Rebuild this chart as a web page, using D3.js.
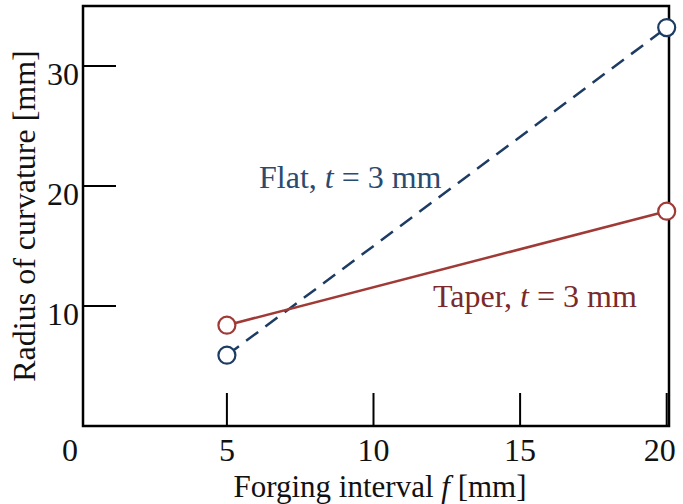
<!DOCTYPE html>
<html>
<head>
<meta charset="utf-8">
<script src="https://cdn.jsdelivr.net/npm/d3@7"></script>
<style>
  body { margin: 0; background: #fff; }
  svg { display: block; }
  text { font-family: "Liberation Serif", "Times New Roman", serif; }
</style>
</head>
<body>
<svg id="chart" width="683" height="504"></svg>
<script>
// Forging interval f [mm]
const intervals = [5, 20];
// Radius of curvature [mm] for each tool shape
const flatRadius = [5.9, 33.2];
const taperRadius = [8.4, 17.9];
const xTicks = [5, 10, 15, 20];
const yTicks = [10, 20, 30];
const seriesNames = ["Flat", "Taper"];

const svg = d3.select("#chart");

// frame of the plotting area
const frame = { left: 83, right: 669, top: 6, bottom: 426 };

const x = d3.scaleLinear().domain([0, 20]).range([80.3, 666.7]);
const y = d3.scaleLinear().domain([0, 35]).range([frame.bottom, frame.top]);

const tickLen = 33;
const fontSize = 32;

// inward ticks on left and bottom
svg.append("g").selectAll("line").data(yTicks).join("line")
  .attr("x1", frame.left).attr("x2", frame.left + tickLen)
  .attr("y1", d => y(d)).attr("y2", d => y(d))
  .attr("stroke", "#000").attr("stroke-width", 2);

svg.append("g").selectAll("line").data(xTicks).join("line")
  .attr("x1", d => x(d)).attr("x2", d => x(d))
  .attr("y1", frame.bottom).attr("y2", frame.bottom - tickLen)
  .attr("stroke", "#000").attr("stroke-width", 2);

// box
svg.append("rect")
  .attr("x", frame.left).attr("y", frame.top)
  .attr("width", frame.right - frame.left).attr("height", frame.bottom - frame.top)
  .attr("fill", "none").attr("stroke", "#000").attr("stroke-width", 2.5);

// tick labels
svg.append("g").selectAll("text").data(yTicks).join("text")
  .attr("x", 79).attr("y", d => y(d) + 19)
  .attr("text-anchor", "end").attr("font-size", fontSize).attr("fill", "#111")
  .text(d => d);

svg.append("g").selectAll("text").data(xTicks).join("text")
  .attr("x", d => d === 20 ? x(d) - 7 : x(d)).attr("y", 461)
  .attr("text-anchor", "middle").attr("font-size", fontSize).attr("fill", "#111")
  .text(d => d);

svg.append("text")
  .attr("x", 70).attr("y", 461)
  .attr("text-anchor", "middle").attr("font-size", fontSize).attr("fill", "#111")
  .text("0");

// axis titles
const xTitle = svg.append("text")
  .attr("x", 380).attr("y", 497)
  .attr("text-anchor", "middle").attr("font-size", 31).attr("fill", "#111");
xTitle.append("tspan").text("Forging interval ");
xTitle.append("tspan").attr("font-style", "italic").text("f");
xTitle.append("tspan").text(" [mm]");

svg.append("text")
  .attr("transform", "translate(35,216) rotate(-90)")
  .attr("text-anchor", "middle").attr("font-size", fontSize).attr("fill", "#111")
  .text("Radius of curvature [mm]");

// series
const series = [
  { name: seriesNames[0], values: flatRadius, color: "#1d3c63", dash: "15,9" },
  { name: seriesNames[1], values: taperRadius, color: "#a03a36", dash: null }
];

const line = d3.line().x(d => x(d[0])).y(d => y(d[1]));

series.forEach(s => {
  const pts = intervals.map((f, i) => [f, s.values[i]]);
  svg.append("path")
    .datum(pts)
    .attr("d", line)
    .attr("fill", "none")
    .attr("stroke", s.color)
    .attr("stroke-width", 2.5)
    .attr("stroke-dasharray", s.dash);
  svg.append("g").selectAll("circle").data(pts).join("circle")
    .attr("cx", d => x(d[0])).attr("cy", d => y(d[1]))
    .attr("r", 8.5)
    .attr("fill", "#fff")
    .attr("stroke", s.color)
    .attr("stroke-width", 2.2);
});

// series labels
function seriesLabel(name, xPos, yPos, color) {
  const t = svg.append("text")
    .attr("x", xPos).attr("y", yPos)
    .attr("font-size", fontSize).attr("fill", color);
  t.append("tspan").text(name + ", ");
  t.append("tspan").attr("font-style", "italic").text("t");
  t.append("tspan").text(" = 3 mm");
}
seriesLabel(seriesNames[0], 259, 188, "#2b4a6f");
seriesLabel(seriesNames[1], 433, 307, "#7a2a2a");
</script>
</body>
</html>
